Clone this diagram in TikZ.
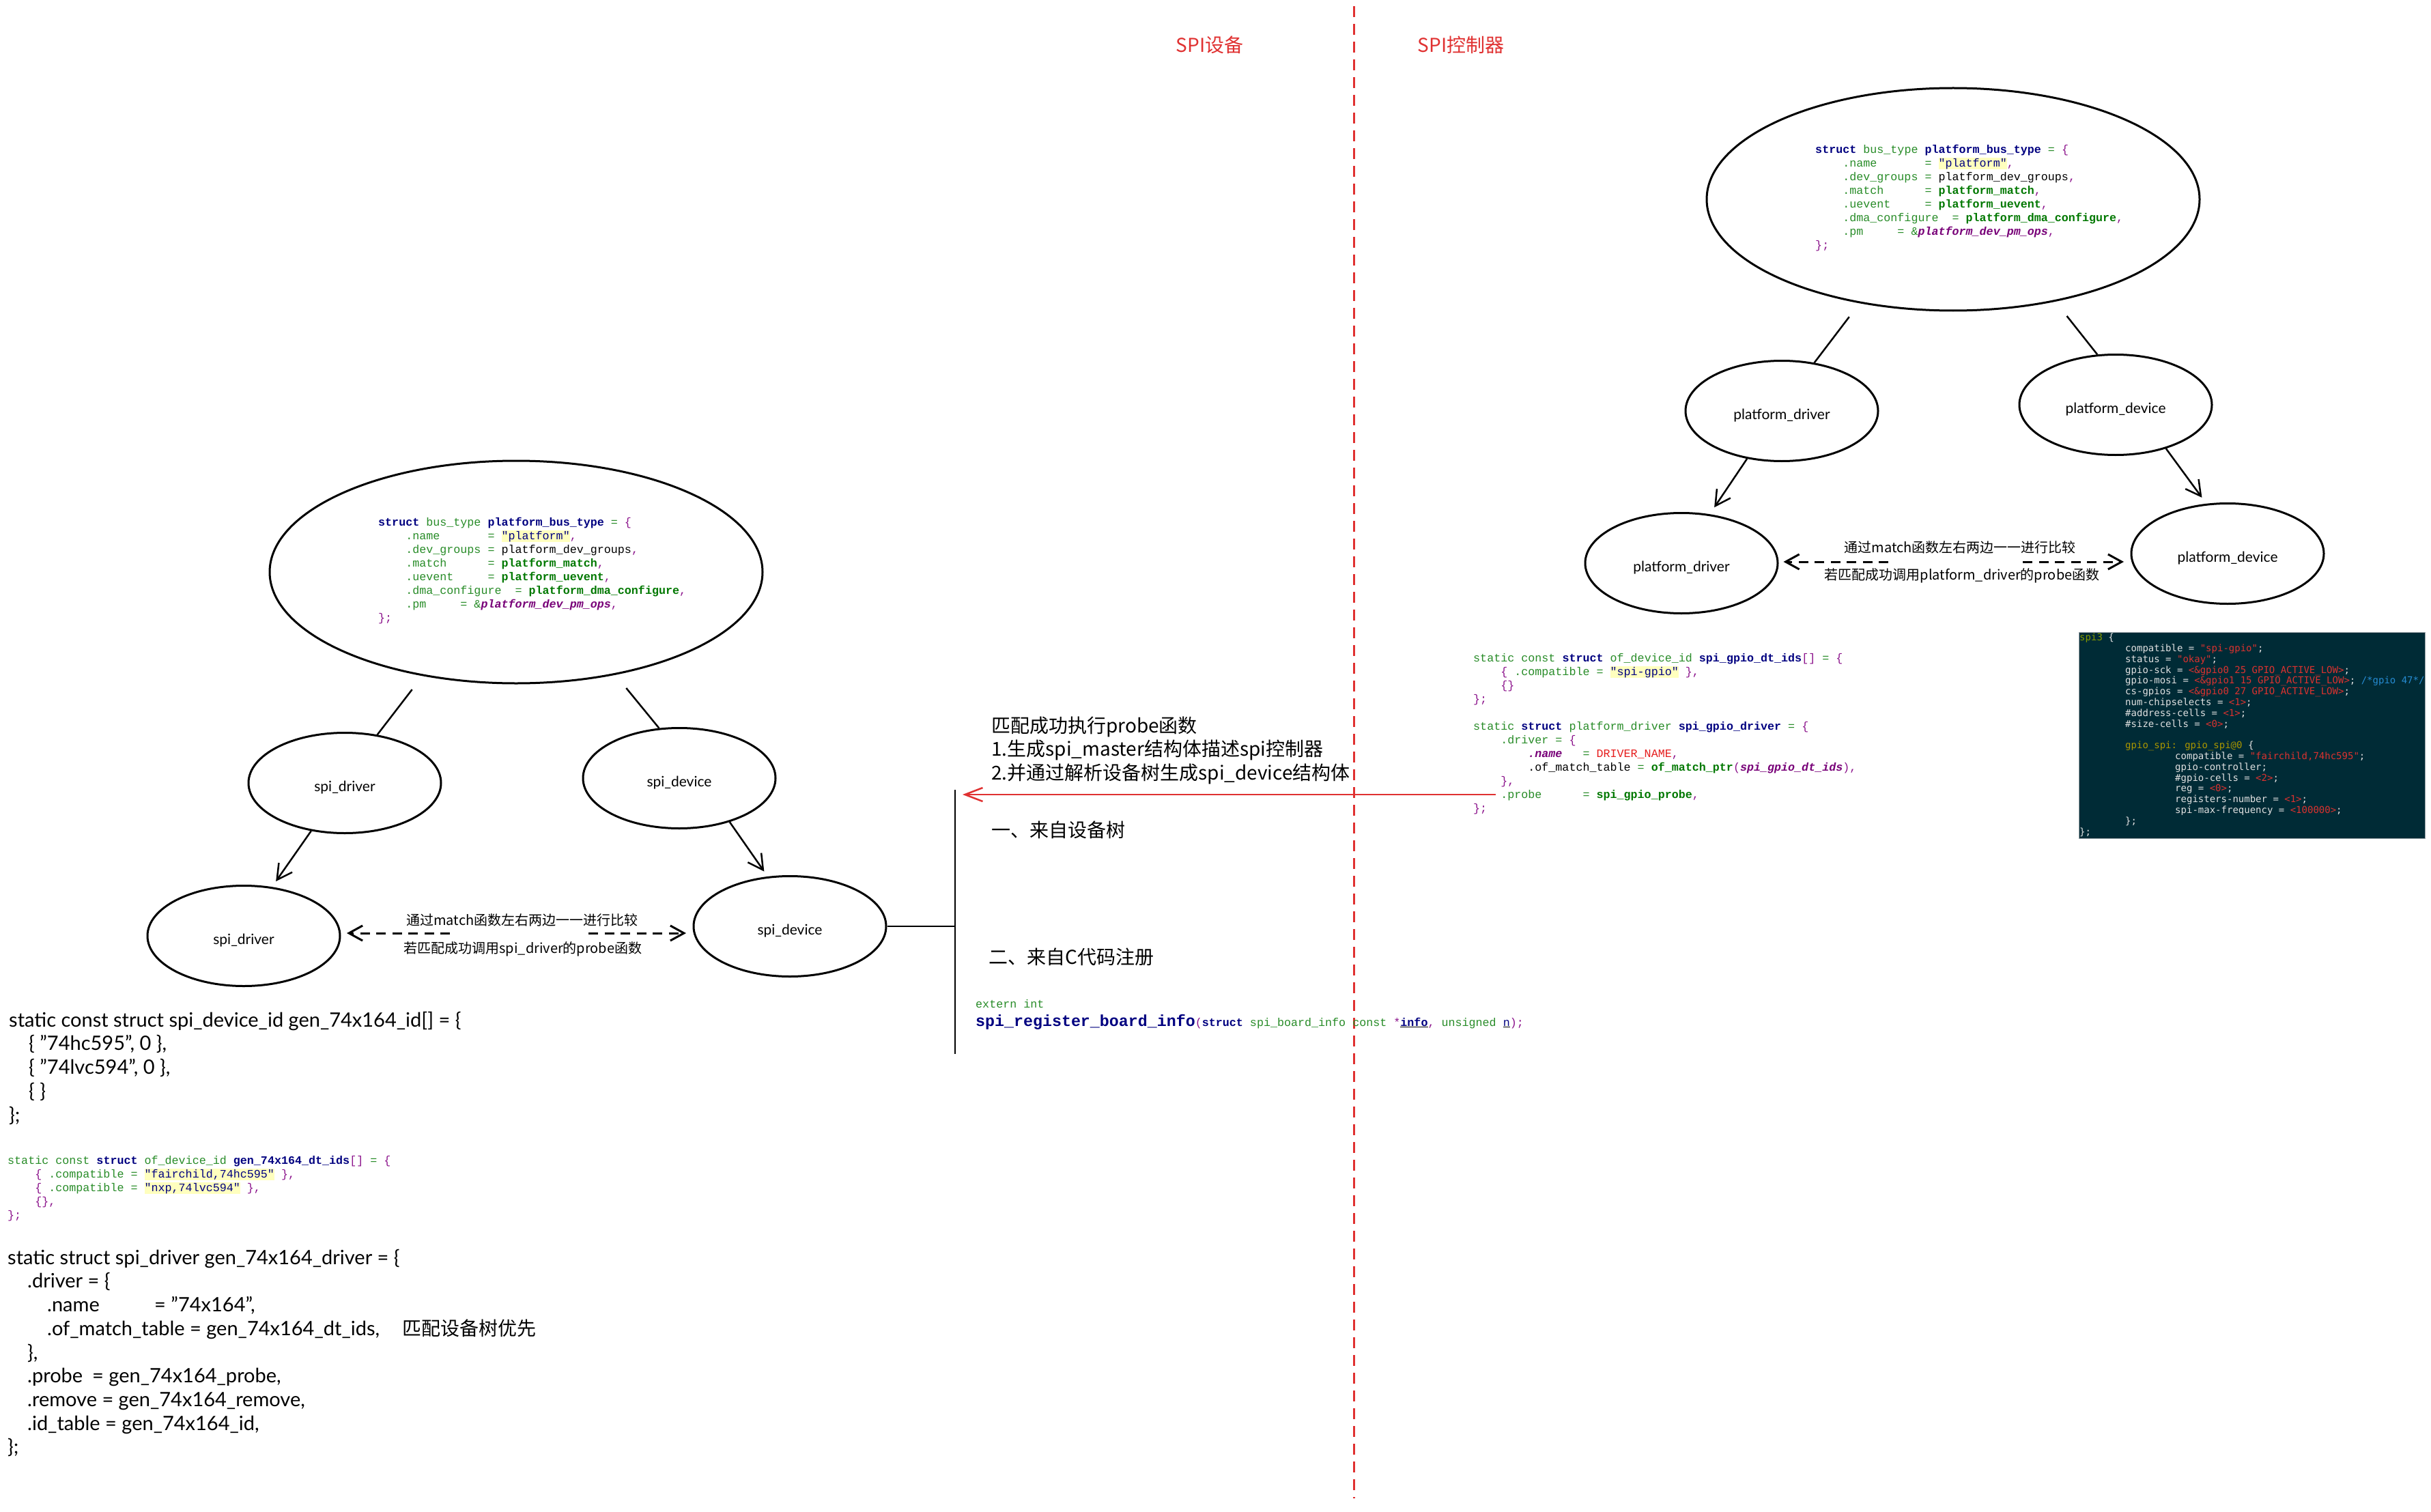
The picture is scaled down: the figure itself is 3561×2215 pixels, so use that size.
\documentclass[tikz,border=0pt]{standalone}
\usepackage{fontspec}
\setmainfont{Lato}
\newfontfamily\cjk{Noto Sans CJK SC}
\newfontfamily\monoA{Liberation Mono}
\newfontfamily\monoD{DejaVu Sans Mono}
\usetikzlibrary{shapes.geometric,arrows.meta}

\definecolor{exRed}{RGB}{224,49,49}
\definecolor{cNavy}{RGB}{0,0,128}
\definecolor{cGreen}{RGB}{40,140,40}
\definecolor{cGreenB}{RGB}{0,120,0}
\definecolor{cPurple}{RGB}{140,20,140}
\definecolor{cIP}{RGB}{120,0,120}
\definecolor{cHl}{RGB}{255,255,190}
\definecolor{cRed}{RGB}{230,30,30}
\definecolor{dBg}{RGB}{0,43,54}
\definecolor{dFg}{RGB}{225,225,225}
\definecolor{dRed}{RGB}{220,50,47}
\definecolor{dOl}{RGB}{133,153,0}
\definecolor{dYe}{RGB}{170,150,0}
\definecolor{dBl}{RGB}{38,139,210}
\definecolor{dBd}{RGB}{150,160,165}

\newlength\cwA \setlength\cwA{10.02pt}
\newcommand\sk[1]{\hspace*{#1\cwA}}
\newcommand\kw[1]{\textcolor{cNavy}{\bfseries #1}}
\newcommand\ty[1]{\textcolor{cGreen}{#1}}
\newcommand\pu[1]{\textcolor{cPurple}{#1}}
\newcommand\fn[1]{\textcolor{cGreenB}{\bfseries #1}}
\newcommand\ip[1]{\textcolor{cIP}{\bfseries\itshape #1}}
\newcommand\hl[1]{{\setlength\fboxsep{0pt}\colorbox{cHl}{\rule[-4pt]{0pt}{17pt}\textcolor{cNavy}{#1}}}}
\newcommand\dr[1]{\textcolor{dRed}{#1}}
\newcommand\lowtxt[1]{\raisebox{-12pt}[0pt][0pt]{#1}}

\newcommand\busCode{%
\strut\kw{struct} \ty{bus\_type} \kw{platform\_bus\_type} \ty{=} \pu{\{}\\
\sk4\ty{.name}\sk7\ty{=} \hl{"platform"}\pu{,}\\
\sk4\ty{.dev\_groups =} platform\_dev\_groups\pu{,}\\
\sk4\ty{.match}\sk6\ty{=} \fn{platform\_match}\pu{,}\\
\sk4\ty{.uevent}\sk5\ty{=} \fn{platform\_uevent}\pu{,}\\
\sk4\ty{.dma\_configure}\sk2\ty{=} \fn{platform\_dma\_configure}\pu{,}\\
\sk4\ty{.pm}\sk5\ty{=} \ty{\&}\ip{platform\_dev\_pm\_ops}\pu{,}\\
\pu{\};}}

\begin{document}
\begin{tikzpicture}[x=1pt,y=-1pt,
  ell/.style={ellipse, draw, line width=3pt, inner sep=0pt},
  bigell/.style={ell, minimum width=722pt, minimum height=326pt},
  smallell/.style={ell, minimum width=282pt, minimum height=147pt, font=\fontsize{21}{25}\selectfont},
  conn/.style={line width=2.5pt},
  arr/.style={conn, -{Straight Barb[length=22pt,width=24pt]}},
  darr/.style={line width=3pt, dash pattern=on 14pt off 9.5pt, -{Straight Barb[length=20pt,width=22pt]}},
  redarr/.style={line width=2.5pt, exRed, -{Straight Barb[length=26pt,width=20pt]}},
  lbl/.style={font=\cjk\fontsize{20}{24}\selectfont, inner sep=0pt},
  code/.style={anchor=north west, inner sep=0pt, align=left, font=\monoA\fontsize{16.7}{20}\selectfont},
  bigtxt/.style={anchor=north west, inner sep=0pt, align=left, font=\fontsize{29}{34.7}\selectfont},
  cjktxt/.style={anchor=base west, inner sep=0pt, font=\cjk\fontsize{28}{33.3}\selectfont},
]
\useasboundingbox (0,0) rectangle (3561,2215);
\fill[white] (0,0) rectangle (3561,2215);

% titles and divider
\node[font=\cjk\fontsize{28}{34}\selectfont, text=exRed, inner sep=0pt] (tDev) at (1772,66) {SPI设备};
\node[font=\cjk\fontsize{28}{34}\selectfont, text=exRed, inner sep=0pt] (tCtl) at (2140,66) {SPI控制器};
\coordinate (dT) at (1983,9);
\coordinate (dB) at (1983,2195);
\draw[line width=3pt, exRed, dash pattern=on 16pt off 10pt] (dT) -- (dB);

% ---------- right (controller) ----------
\node[bigell] (busR) at (2861,292) {};
\node[code] (busRc) at (2659,210) {\busCode};
\node[smallell] (pdrvT) at (2610,602) {\lowtxt{platform\_driver}};
\node[smallell] (pdevT) at (3099,593) {\lowtxt{platform\_device}};
\node[smallell] (pdrvB) at (2463,825) {\lowtxt{platform\_driver}};
\node[smallell] (pdevB) at (3263,811) {\lowtxt{platform\_device}};
\draw[conn, shorten <=25pt] (busR.228) -- (pdrvT.56);
\draw[conn, shorten <=27pt] (busR.315) -- (pdevT.110);
\draw[arr, shorten >=12pt] (pdrvT.234) -- (pdrvB.60);
\draw[arr, shorten >=11pt] (pdevT.319) -- (pdevB.113);
\coordinate (mR1) at (2766,823);
\coordinate (mR2) at (2963,823);
\draw[darr, shorten >=7pt] (mR1) -- (mR1 -| pdrvB.east);
\draw[darr, shorten >=9.5pt] (mR2) -- (mR2 -| pdevB.west);
\node[lbl] (lR1) at (2871,802) {通过match函数左右两边一一进行比较};
\node[lbl] (lR2) at (2874,843) {若匹配成功调用platform\_driver的probe函数};

% spi_gpio code
\node[code] (gpioc) at (2158,955) {%
\strut\ty{static const} \kw{struct} \ty{of\_device\_id} \kw{spi\_gpio\_dt\_ids}\pu{[]} \ty{=} \pu{\{}\\
\sk4\pu{\{} \ty{.compatible =} \hl{"spi-gpio"} \pu{\},}\\
\sk4\pu{\{\}}\\
\pu{\};}\\
\strut\\
\ty{static} \kw{struct} \ty{platform\_driver} \kw{spi\_gpio\_driver} \ty{=} \pu{\{}\\
\sk4\ty{.driver =} \pu{\{}\\
\sk8\ip{.name}\sk3\ty{=} \textcolor{cRed}{DRIVER\_NAME}\pu{,}\\
\sk8.of\_match\_table \ty{=} \fn{of\_match\_ptr}\pu{(}\ip{spi\_gpio\_dt\_ids}\pu{),}\\
\sk4\pu{\},}\\
\sk4\ty{.probe}\sk6\ty{=} \fn{spi\_gpio\_probe}\pu{,}\\
\pu{\};}};

% device tree box
\node[draw=dBd, fill=dBg, line width=1pt, anchor=north west, minimum width=507pt, minimum height=302pt, inner sep=0pt] (dts) at (3045,926) {};
\begin{scope}
\clip (dts.south west) rectangle (dts.north east);
\node[anchor=north west, inner sep=0pt, align=left, text=dFg, font=\monoD\fontsize{14}{15.8}\selectfont] (dtt) at (3046,927.4) {%
\strut\textcolor{dOl}{spi3} \{\\
\hspace*{67pt}compatible = \dr{"spi-gpio"};\\
\hspace*{67pt}status = \dr{"okay"};\\
\hspace*{67pt}gpio-sck = \dr{<\&gpio0 25 GPIO\_ACTIVE\_LOW>};\\
\hspace*{67pt}gpio-mosi = \dr{<\&gpio1 15 GPIO\_ACTIVE\_LOW>}; \textcolor{dBl}{/*gpio 47*/}\\
\hspace*{67pt}cs-gpios = \dr{<\&gpio0 27 GPIO\_ACTIVE\_LOW>};\\
\hspace*{67pt}num-chipselects = \dr{<1>};\\
\hspace*{67pt}\#address-cells = \dr{<1>};\\
\hspace*{67pt}\#size-cells = \dr{<0>};\\
\strut\\
\hspace*{67pt}\textcolor{dYe}{gpio\_spi: gpio\_spi@0} \{\\
\hspace*{140pt}compatible = \dr{"fairchild,74hc595"};\\
\hspace*{140pt}gpio-controller;\\
\hspace*{140pt}\#gpio-cells = \dr{<2>};\\
\hspace*{140pt}reg = \dr{<0>};\\
\hspace*{140pt}registers-number = \dr{<1>};\\
\hspace*{140pt}spi-max-frequency = \dr{<100000>};\\
\hspace*{67pt}\};\\
\};};
\end{scope}

% ---------- left (device) ----------
\node[bigell] (busL) at (756,838) {};
\node[code] (busLc) at (554,756) {\busCode};
\node[smallell] (sdrvT) at (505,1147) {\lowtxt{spi\_driver}};
\node[smallell] (sdevT) at (995,1140) {\lowtxt{spi\_device}};
\node[smallell] (sdrvB) at (357,1371) {\lowtxt{spi\_driver}};
\node[smallell] (sdevB) at (1157,1357) {\lowtxt{spi\_device}};
\draw[conn, shorten <=25pt] (busL.228) -- (sdrvT.56);
\draw[conn, shorten <=25pt] (busL.314) -- (sdevT.112);
\draw[arr, shorten >=10pt] (sdrvT.235) -- (sdrvB.60);
\draw[arr, shorten >=9pt] (sdevT.319) -- (sdevB.114);
\coordinate (mL1) at (659,1367);
\coordinate (mL2) at (862,1367);
\draw[darr, shorten >=8.5pt] (mL1) -- (mL1 -| sdrvB.east);
\draw[darr, shorten >=9.5pt] (mL2) -- (mL2 -| sdevB.west);
\node[lbl] (lL1) at (765,1348) {通过match函数左右两边一一进行比较};
\node[lbl] (lL2) at (766,1390) {若匹配成功调用spi\_driver的probe函数};

% bracket line and red arrow
\coordinate (vT) at (1399,1157);
\coordinate (vB) at (1399,1544);
\draw[line width=2pt] (vT) -- (vB);
\draw[line width=2pt] (sdevB.east) -- (sdevB.east -| vT);
\coordinate (probeL) at (2191,1164);
\draw[redarr, shorten >=11pt] (probeL) -- (probeL -| vT);

% middle texts
\node[anchor=north west, inner sep=0pt, align=left, font=\cjk\fontsize{28}{33.3}\selectfont] (mid) at (1452,1049.7) {\strut 匹配成功执行probe函数\\\strut 1.生成spi\_master结构体描述spi控制器\\\strut 2.并通过解析设备树生成spi\_device结构体};
\node[cjktxt] (src1) at (1452,1226) {一、来自设备树};
\node[cjktxt] (src2) at (1448,1412) {二、来自C代码注册};
\node[anchor=base west, inner sep=0pt, font=\monoA\fontsize{16.7}{20}\selectfont] (ext) at (1429,1476) {\ty{extern int}};
\node[anchor=base west, inner sep=0pt, font=\monoA\fontsize{16.7}{20}\selectfont] (reg) at (1429,1503) {{\fontsize{23.3}{28}\selectfont\kw{spi\_register\_board\_info}}\pu{(}\kw{struct} \ty{spi\_board\_info const} \pu{*}\underline{\textcolor{cNavy}{\bfseries info}}\pu{,} \ty{unsigned} \underline{\textcolor{cNavy}{n}}\pu{);}};

% left code texts
\node[bigtxt] (idtab) at (13,1479.7) {%
\strut static const struct spi\_device\_id gen\_74x164\_id[] = \{\\
\strut\hspace*{29pt}\{ "74hc595", 0 \},\\
\strut\hspace*{29pt}\{ "74lvc594", 0 \},\\
\strut\hspace*{29pt}\{ \}\\
\strut\};};
\node[code] (dtids) at (11,1691) {%
\strut\ty{static const} \kw{struct} \ty{of\_device\_id} \kw{gen\_74x164\_dt\_ids}\pu{[]} \ty{=} \pu{\{}\\
\sk4\pu{\{} \ty{.compatible =} \hl{"fairchild,74hc595"} \pu{\},}\\
\sk4\pu{\{} \ty{.compatible =} \hl{"nxp,74lvc594"} \pu{\},}\\
\sk4\pu{\{\},}\\
\pu{\};}};
\node[bigtxt] (drv) at (11,1827.7) {%
\strut static struct spi\_driver gen\_74x164\_driver = \{\\
\strut\hspace*{29pt}.driver = \{\\
\strut\hspace*{58pt}\makebox[157pt][l]{.name}= "74x164",\\
\strut\hspace*{58pt}.of\_match\_table = gen\_74x164\_dt\_ids,\\
\strut\hspace*{29pt}\},\\
\strut\hspace*{29pt}\makebox[95pt][l]{.probe}= gen\_74x164\_probe,\\
\strut\hspace*{29pt}.remove = gen\_74x164\_remove,\\
\strut\hspace*{29pt}.id\_table = gen\_74x164\_id,\\
\strut\};};
\node[anchor=base west, inner sep=0pt, font=\cjk\fontsize{28}{34}\selectfont] (prio) at (589,1956) {匹配设备树优先};
\end{tikzpicture}
\end{document}
